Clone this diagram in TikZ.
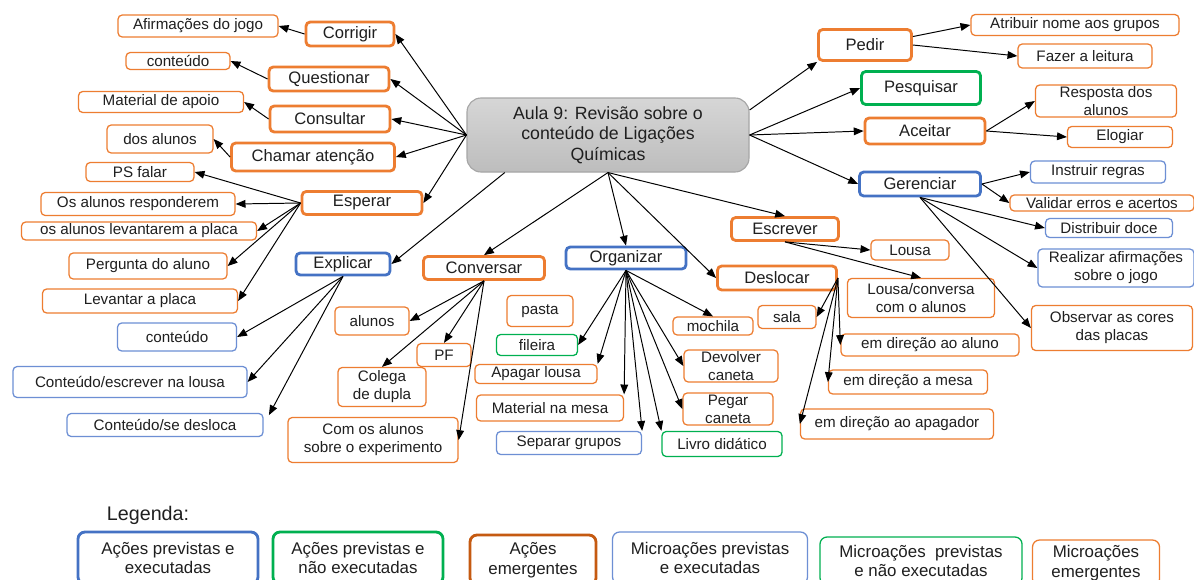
\documentclass[tikz,border=0pt]{standalone}
\usepackage{fontspec}
\setmainfont{Liberation Sans}
\usepackage{xcolor}
\usetikzlibrary{arrows.meta}

\definecolor{laranja}{HTML}{ED7D31}
\definecolor{laranjaesc}{HTML}{C55A11}
\definecolor{azul}{HTML}{4472C4}
\definecolor{azulclaro}{HTML}{6D8FD4}
\definecolor{verde}{HTML}{00B050}
\definecolor{cinzaborda}{HTML}{A6A6A6}
\definecolor{cinzatopo}{HTML}{D6D6D6}
\definecolor{cinzabase}{HTML}{BDBDBD}
\definecolor{texto}{HTML}{1F1F1F}

\begin{document}
\begin{tikzpicture}[
x=0.025cm, y=-0.025cm,
bw/.style={minimum width=#1*0.025cm},
bh/.style={minimum height=#1*0.025cm},
box/.style={rectangle, rounded corners=3pt, align=center, inner sep=1pt, text=texto},
acao/.style={box, draw=laranja, line width=2pt, font=\fontsize{11.8}{14}\selectfont},
acaob/.style={acao, draw=azul},
acaog/.style={acao, draw=verde},
micro/.style={box, draw=laranja, line width=0.9pt, font=\fontsize{10.8}{12.8}\selectfont},
microb/.style={micro, draw=azulclaro},
microg/.style={micro, draw=verde},
hubbox/.style={box, draw=cinzaborda, line width=0.8pt, rounded corners=10pt, top color=cinzatopo, bottom color=cinzabase, font=\fontsize{12.6}{14.6}\selectfont},
legbox/.style={box, rounded corners=5pt, font=\fontsize{12}{14}\selectfont},
seta/.style={-{Triangle[length=7pt,width=5.5pt]}, line width=0.7pt}
]

\useasboundingbox (0,0) rectangle (1194,579);
\fill[white] (0,0) rectangle (1194,579);
\clip (0,0) rectangle (1194,579);

% centro
\node[hubbox, bw=282, bh=74] (hub) at (608,135) {Aula 9: Revisão sobre o\\conteúdo de Ligações\\Químicas};

% acoes
\node[acao, bw=88, bh=24] (corrigir) at (350,34) {Corrigir};
\node[acao, bw=120, bh=24] (questionar) at (329,79) {Questionar};
\node[acao, bw=120, bh=26] (consultar) at (330,119) {Consultar};
\node[acao, bw=163, bh=28] (chamar) at (313,157) {Chamar atenção};
\node[acao, bw=120, bh=23] (esperar) at (362,203) {Esperar};
\node[acaob, bw=94, bh=22] (explicar) at (343,264) {Explicar};
\node[acao, bw=121, bh=23] (conversar) at (484,268) {Conversar};
\node[acaob, bw=120, bh=22] (organizar) at (626,258) {Organizar};
\node[acao, bw=107, bh=23] (escrever) at (785,229) {Escrever};
\node[acao, bw=119, bh=24] (deslocar) at (777,278) {Deslocar};
\node[acao, bw=93, bh=31] (pedir) at (865,45) {Pedir};
\node[acaog, bw=119, bh=33] (pesquisar) at (921,88) {Pesquisar};
\node[acao, bw=120, bh=26] (aceitar) at (925,131) {Aceitar};
\node[acaob, bw=121, bh=24] (gerenciar) at (920,184) {Gerenciar};

% microacoes
\node[micro, bw=160, bh=22] (afirmacoes) at (198,26) {Afirmações do jogo};
\node[micro, bw=104, bh=17] (conteudoA) at (178,61) {conteúdo};
\node[micro, bw=165, bh=21] (material) at (161,102) {Material de apoio};
\node[micro, bw=106, bh=28] (dosalunos) at (160,139) {dos alunos};
\node[micro, bw=108, bh=19] (psfalar) at (140,172) {PS falar};
\node[micro, bw=194, bh=23] (responderem) at (138,204) {Os alunos responderem};
\node[micro, bw=235, bh=18] (levantarem) at (139,231) {os alunos levantarem a placa};
\node[micro, bw=158, bh=26] (pergunta) at (148,266) {Pergunta do aluno};
\node[micro, bw=195, bh=24] (levantar) at (140,301) {Levantar a placa};
\node[microb, bw=119, bh=28] (conteudoB) at (177,337) {conteúdo};
\node[microb, bw=234, bh=31] (escreverlousa) at (130,382) {Conteúdo/escrever na lousa};
\node[microb, bw=196, bh=23] (desloca) at (165,425) {Conteúdo/se desloca};
\node[micro, bw=74, bh=28] (alunos) at (372,321) {alunos};
\node[micro, bw=54, bh=23] (pf) at (444,355) {PF};
\node[micro, bw=88, bh=39] (colega) at (382,387) {Colega\\de dupla};
\node[micro, bw=170, bh=45] (comalunos) at (373,440) {Com os alunos\\sobre o experimento};
\node[micro, bw=66, bh=31] (pasta) at (540,311) {pasta};
\node[microg, bw=81, bh=21] (fileira) at (537,345) {fileira};
\node[micro, bw=122, bh=19] (apagar) at (536,374) {Apagar lousa};
\node[micro, bw=147, bh=26] (mesa) at (550,408) {Material na mesa};
\node[microb, bw=145, bh=23] (separar) at (569,443) {Separar grupos};
\node[microg, bw=120, bh=25] (livro) at (722,444) {Livro didático};
\node[micro, bw=90, bh=32] (pegar) at (728,409) {Pegar\\caneta};
\node[micro, bw=94, bh=31] (devolver) at (731,366) {Devolver\\caneta};
\node[micro, bw=80, bh=18] (mochila) at (713,326) {mochila};
\node[micro, bw=58, bh=23] (sala) at (787,317) {sala};
\node[micro, bw=78, bh=20] (lousa) at (910,250) {Lousa};
\node[micro, bw=147, bh=39] (lousaconversa) at (921,298) {Lousa/conversa\\com o alunos};
\node[micro, bw=178, bh=22] (diraluno) at (930,345) {em direção ao aluno};
\node[micro, bw=159, bh=24] (dirmesa) at (908,382) {em direção a mesa};
\node[micro, bw=193, bh=30] (dirapagador) at (897,424) {em direção ao apagador};
\node[micro, bw=208, bh=21] (atribuir) at (1075,25) {Atribuir nome aos grupos};
\node[micro, bw=134, bh=24] (leitura) at (1085,56) {Fazer a leitura};
\node[micro, bw=141, bh=32] (resposta) at (1106,101) {Resposta dos\\alunos};
\node[micro, bw=105, bh=21] (elogiar) at (1120,137) {Elogiar};
\node[microb, bw=135, bh=22] (instruir) at (1098,172) {Instruir regras};
\node[micro, bw=184, bh=16] (validar) at (1102,203) {Validar erros e acertos};
\node[microb, bw=127, bh=19] (distribuir) at (1109,228) {Distribuir doce};
\node[microb, bw=156, bh=38] (realizar) at (1116,268) {Realizar afirmações\\sobre o jogo};
\node[micro, bw=161, bh=45] (observar) at (1112,328) {Observar as cores\\das placas};

% ligacoes do centro
\draw[seta] (hub.west) -- (corrigir.east);
\draw[seta] (hub.west) -- (questionar.east);
\draw[seta] (hub.west) -- (consultar.east);
\draw[seta] (hub.west) -- (chamar.east);
\draw[seta] (hub.west) -- (esperar.east);
\draw[seta] (hub.200) -- (explicar.east);
\draw[seta] (hub.south) -- (conversar.north);
\draw[seta] (hub.south) -- (organizar.north);
\draw[seta] (hub.south) -- (escrever.north);
\draw[seta] (hub.south) -- (deslocar.west);
\draw[seta] (hub.10) -- (pedir.south west);
\draw[seta] (hub.east) -- (pesquisar.west);
\draw[seta] (hub.east) -- (aceitar.west);
\draw[seta] (hub.east) -- (gerenciar.west);

% ligacoes das acoes
\draw[seta] (corrigir.west) -- (afirmacoes.east);
\draw[seta] (questionar.west) -- (conteudoA.east);
\draw[seta] (consultar.west) -- (material.east);
\draw[seta] (chamar.west) -- (dosalunos.east);
\draw[seta] (esperar.west) -- (psfalar.east);
\draw[seta] (esperar.west) -- (responderem.east);
\draw[seta] (esperar.west) -- (levantarem.east);
\draw[seta] (esperar.west) -- (pergunta.east);
\draw[seta] (esperar.west) -- (levantar.east);
\draw[seta] (explicar.south) -- (conteudoB.east);
\draw[seta] (explicar.south) -- (escreverlousa.east);
\draw[seta, shorten >=8pt] (explicar.south) -- (desloca.east);
\draw[seta] (conversar.south) -- (alunos.east);
\draw[seta] (conversar.south) -- (pf.north);
\draw[seta] (conversar.south) -- (colega.north);
\draw[seta] (conversar.south) -- (comalunos.east);
\draw[seta] (organizar.south) -- (fileira.east);
\draw[seta] (organizar.south) -- (apagar.north east);
\draw[seta] (organizar.south) -- (mesa.north east);
\draw[seta] (organizar.south) -- (separar.north east);
\draw[seta] (organizar.south) -- (livro.north west);
\draw[seta] (organizar.south) -- (pegar.west);
\draw[seta] (organizar.south) -- (devolver.west);
\draw[seta] (organizar.south) -- (mochila.north);
\draw[seta] (escrever.south) -- (lousa.west);
\draw[seta] (escrever.south) -- (lousaconversa.north);
\draw[seta] (deslocar.east) -- (sala.east);
\draw[seta] (deslocar.east) -- (diraluno.west);
\draw[seta] (deslocar.east) -- (dirmesa.west);
\draw[seta] (deslocar.east) -- (dirapagador.west);
\draw[seta] (pedir.10) -- (atribuir.west);
\draw[seta] (pedir.east) -- (leitura.west);
\draw[seta] (aceitar.east) -- (resposta.west);
\draw[seta] (aceitar.east) -- (elogiar.west);
\draw[seta] (gerenciar.east) -- (instruir.west);
\draw[seta] (gerenciar.east) -- (validar.west);
\draw[seta] (gerenciar.south) -- (distribuir.west);
\draw[seta] (gerenciar.south) -- (realizar.west);
\draw[seta] (gerenciar.south) -- (observar.west);

% legenda
\node[anchor=west, text=texto, font=\fontsize{14}{16}\selectfont] (legenda) at (102,515) {Legenda:};
\node[legbox, draw=azul, line width=2pt, bw=180, bh=52] (leg1) at (168,558) {Ações previstas e\\executadas};
\node[legbox, draw=verde, line width=2pt, bw=170, bh=52] (leg2) at (358,558) {Ações previstas e\\não executadas};
\node[legbox, draw=laranjaesc, line width=2pt, bw=126, bh=50] (leg3) at (533,560) {Ações\\emergentes};
\node[legbox, draw=azulclaro, line width=0.9pt, bw=195, bh=52] (leg4) at (710,558) {Microações previstas\\e executadas};
\node[legbox, draw=verde, line width=0.9pt, bw=202, bh=48] (leg5) at (921,561) {Microações\ \ previstas\\e não executadas};
\node[legbox, draw=laranja, line width=0.9pt, bw=127, bh=46] (leg6) at (1096,563) {Microações\\emergentes};

\end{tikzpicture}
\end{document}
